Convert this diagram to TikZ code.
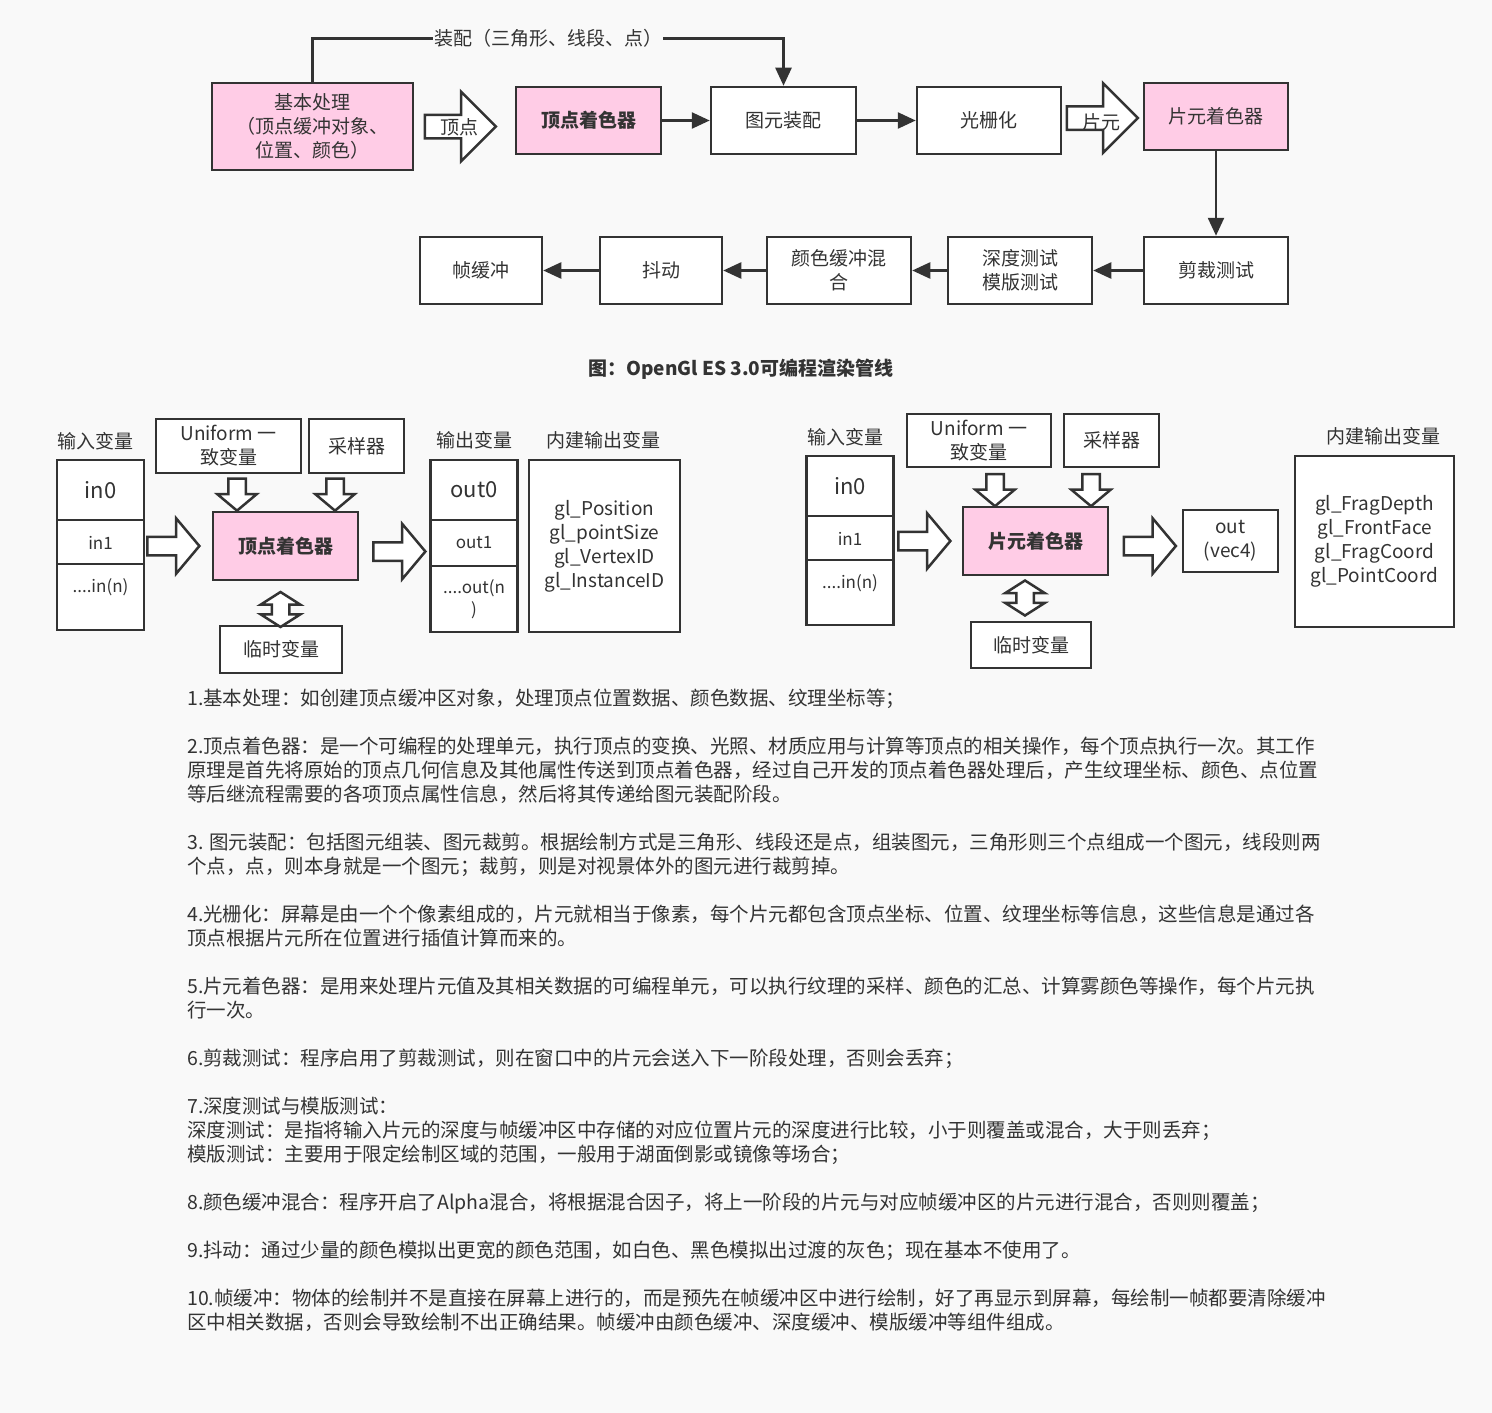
\documentclass[tikz,border=0pt]{standalone}
\usepackage{fontspec}
\setmainfont{Noto Sans CJK SC}
\usetikzlibrary{positioning}
\usetikzlibrary{arrows.meta,shapes.arrows}
\usetikzlibrary{calc}
\definecolor{bgc}{HTML}{F9F9F9}
\definecolor{linec}{HTML}{333333}
\definecolor{pinkc}{HTML}{FFCCE6}
\newcommand{\fourdots}{....}
\tikzstyle{box}=[rectangle,draw=linec,line width=2.5pt,fill=white,inner sep=0pt,align=center,text=linec,font=\fontsize{19}{24}\selectfont]
\tikzstyle{pinkbox}=[box,fill=pinkc]
\tikzstyle{boldbox}=[pinkbox,font=\bfseries\fontsize{19}{24}\selectfont]
\tikzstyle{cell}=[box,minimum width=87pt]
\tikzstyle{edge}=[draw=linec,line width=2.5pt,-{Triangle[length=18pt,width=16pt]}]
\tikzstyle{fatarrow}=[single arrow,draw=linec,fill=white,line width=2.5pt,inner xsep=0pt,minimum width=0pt,minimum height=71pt,inner ysep=10.5pt,single arrow head extend=23pt,single arrow tip angle=90]
\tikzstyle{smallarrow}=[fatarrow,minimum height=52pt,inner ysep=8pt,single arrow head extend=18.5pt,single arrow tip angle=100]
\tikzstyle{downarrow}=[fatarrow,rotate=-90,minimum height=32pt,inner ysep=7.5pt,single arrow head extend=11pt,single arrow tip angle=100]
\tikzstyle{dblarrow}=[double arrow,draw=linec,fill=white,line width=2.5pt,inner xsep=0pt,minimum width=0pt,rotate=90,minimum height=35pt,inner ysep=7.5pt,double arrow head extend=11pt,double arrow tip angle=115]
\tikzstyle{lbl}=[text=linec,inner sep=1pt,font=\fontsize{19}{24}\selectfont]
\tikzstyle{para}=[anchor=base west,text=linec,inner sep=0pt,font=\fontsize{19.5}{24}\selectfont]

\begin{document}
\begin{tikzpicture}[x=1pt,y=-1pt]
    % Page background
    \fill[bgc] (0,0) rectangle (1492,1413);
    \useasboundingbox (0,0) rectangle (1492,1413);

    % First we draw the stages of the pipeline
    \node[pinkbox, minimum width=201, minimum height=87] (base) at (312.5,126.5) {基本处理\\（顶点缓冲对象、\\位置、颜色）};
    \node[boldbox, minimum width=145, minimum height=67] (vsh) at (588.5,120.5) {顶点着色器};
    \node[pinkbox, minimum width=144, minimum height=67] (fsh) at (1216,116.5) {片元着色器};
    \foreach \pos/\name/\w/\txt in {{(783.5,120.5)/asm/145/图元装配}, {(989,120.5)/ras/144/光栅化},
        {(1216,270.5)/clip/144/剪裁测试}, {(1020,270.5)/depth/144/深度测试\\模版测试},
        {(839,270.5)/blend/144/颜色缓冲混\\合}, {(661,270.5)/dith/122/抖动}, {(481,270.5)/fbuf/122/帧缓冲}}
        \node[box, minimum width=\w, minimum height=67] (\name) at \pos {\txt};

    % Connect the stages
    \foreach \source/\dest in {vsh/asm, asm/ras, fsh/clip, clip/depth, depth/blend, blend/dith, dith/fbuf}
        \path[edge] (\source) -- (\dest);
    \path[edge] (base.north) -- ++(0,-43) -| node[lbl, pos=0.25, fill=bgc] (asmlbl) {装配（三角形、线段、点）} (asm.north);

    \node[fatarrow] (vtxarr) at (454.5,126.5) {};
    \node[lbl] (vtxlbl) at (459.5,127) {顶点};
    \node[fatarrow] (fragarr) at (1096.5,118) {};
    \node[lbl] (fraglbl) at (1101.5,122) {片元};

    \node[lbl, font=\bfseries\fontsize{19}{24}\selectfont] (cap) at (741,369) {图：OpenGl ES 3.0可编程渲染管线};

    % Vertex shader and fragment shader
    \foreach \pos/\name/\h/\fs/\txt in {{(100.5,490)/vin0/60/22/in0}, {(100.5,543)/vin1/46/17/in1}, {(100.5,597)/vinn/66/17/\fourdots in(n)\\~},
        {(474,490)/vout0/60/22/out0}, {(474,543)/vout1/46/17/out1}, {(474,599)/voutn/66/17/\fourdots out(n\\)},
        {(850,486)/fin0/60/22/in0}, {(850,539)/fin1/46/17/in1}, {(850,592.5)/finn/65/17/\fourdots in(n)\\~}}
        \node[cell, minimum height=\h, font=\fontsize{\fs}{22}\selectfont] (\name) at \pos {\txt};

    \foreach \pos/\name/\w/\h/\txt in {{(228.5,446)/vuni/145/54/Uniform 一\\致变量}, {(356.5,446)/vsam/95/54/采样器},
        {(281,649.5)/vtmp/122/47/临时变量}, {(604.5,546)/vbuilt/151/172/gl\_Position\\gl\_pointSize\\gl\_VertexID\\gl\_InstanceID},
        {(979,440.5)/funi/144/53/Uniform 一\\致变量}, {(1111.5,440.5)/fsam/95/53/采样器},
        {(1031,645)/ftmp/120/46/临时变量}, {(1230.5,541)/fout/95/62/out\\(vec4)},
        {(1374.5,541.5)/fbuilt/159/171/gl\_FragDepth\\gl\_FrontFace\\gl\_FragCoord\\gl\_PointCoord}}
        \node[box, minimum width=\w, minimum height=\h] (\name) at \pos {\txt};

    \node[boldbox, minimum width=145, minimum height=68] (vshader) at (285.5,546) {顶点着色器};
    \node[boldbox, minimum width=145, minimum height=68] (fshader) at (1035.5,541) {片元着色器};

    \foreach \pos/\name/\txt in {{(95,441)/vinlbl/输入变量}, {(474,440)/voutlbl/输出变量}, {(603,440)/vbuiltlbl/内建输出变量},
        {(845,437)/finlbl/输入变量}, {(1383,436)/fbuiltlbl/内建输出变量}}
        \node[lbl] (\name) at \pos {\txt};

    % Hollow arrows between the parts
    \foreach \pos/\name in {{(169.5,546)/vinarr}, {(395.5,551.5)/voutarr}, {(920.5,541)/finarr}, {(1146,546)/foutarr}}
        \node[smallarrow] (\name) at \pos {};
    \foreach \pos/\name in {{(237,491)/vuniarr}, {(335,491)/vsamarr}, {(995,486.5)/funiarr}, {(1091,486.5)/fsamarr}}
        \node[downarrow] (\name) at \pos {};
    \foreach \pos/\name in {{(280.5,609.5)/vtmparr}, {(1025,598)/ftmparr}}
        \node[dblarrow] (\name) at \pos {};

    % Notes below
    \foreach \y/\txt [count=\i] in {
        705/{1.基本处理：如创建顶点缓冲区对象，处理顶点位置数据、颜色数据、纹理坐标等；},
        753/{2.顶点着色器：是一个可编程的处理单元，执行顶点的变换、光照、材质应用与计算等顶点的相关操作，每个顶点执行一次。其工作},
        777/{原理是首先将原始的顶点几何信息及其他属性传送到顶点着色器，经过自己开发的顶点着色器处理后，产生纹理坐标、颜色、点位置},
        801/{等后继流程需要的各项顶点属性信息，然后将其传递给图元装配阶段。},
        849/{3. 图元装配：包括图元组装、图元裁剪。根据绘制方式是三角形、线段还是点，组装图元，三角形则三个点组成一个图元，线段则两},
        873/{个点，点，则本身就是一个图元；裁剪，则是对视景体外的图元进行裁剪掉。},
        921/{4.光栅化：屏幕是由一个个像素组成的，片元就相当于像素，每个片元都包含顶点坐标、位置、纹理坐标等信息，这些信息是通过各},
        945/{顶点根据片元所在位置进行插值计算而来的。},
        993/{5.片元着色器：是用来处理片元值及其相关数据的可编程单元，可以执行纹理的采样、颜色的汇总、计算雾颜色等操作，每个片元执},
        1017/{行一次。},
        1065/{6.剪裁测试：程序启用了剪裁测试，则在窗口中的片元会送入下一阶段处理，否则会丢弃；},
        1113/{7.深度测试与模版测试：},
        1137/{深度测试：是指将输入片元的深度与帧缓冲区中存储的对应位置片元的深度进行比较，小于则覆盖或混合，大于则丢弃；},
        1161/{模版测试：主要用于限定绘制区域的范围，一般用于湖面倒影或镜像等场合；},
        1209/{8.颜色缓冲混合：程序开启了Alpha混合，将根据混合因子，将上一阶段的片元与对应帧缓冲区的片元进行混合，否则则覆盖；},
        1257/{9.抖动：通过少量的颜色模拟出更宽的颜色范围，如白色、黑色模拟出过渡的灰色；现在基本不使用了。},
        1305/{10.帧缓冲：物体的绘制并不是直接在屏幕上进行的，而是预先在帧缓冲区中进行绘制，好了再显示到屏幕，每绘制一帧都要清除缓冲},
        1329/{区中相关数据，否则会导致绘制不出正确结果。帧缓冲由颜色缓冲、深度缓冲、模版缓冲等组件组成。}}
        \node[para] (note\i) at (187,\y) {\txt};
\end{tikzpicture}
\end{document}
